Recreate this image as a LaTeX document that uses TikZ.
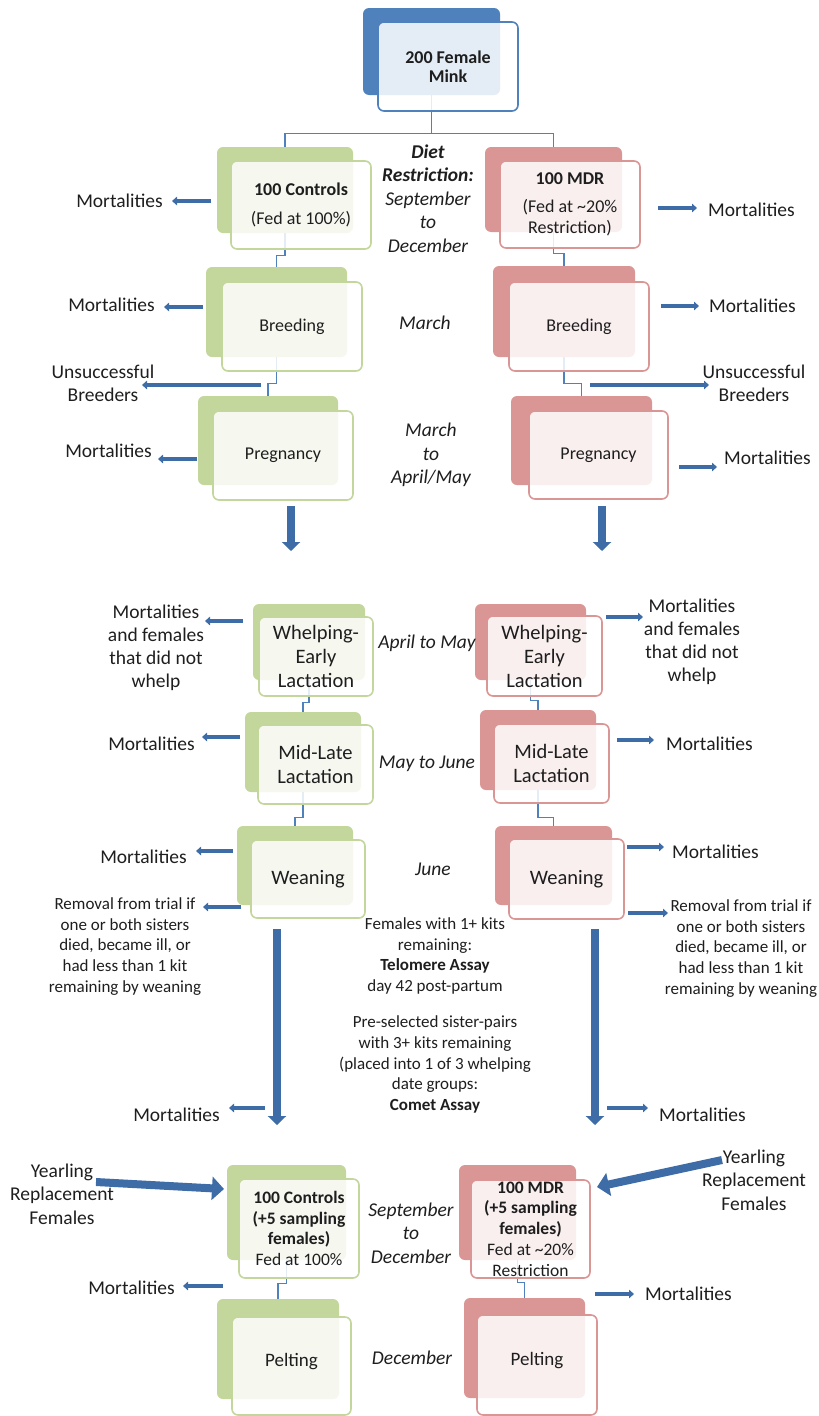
\documentclass[tikz,border=0pt]{standalone}
\usepackage{fontspec}
\setmainfont{Carlito}
\usetikzlibrary{positioning,arrows.meta}

\definecolor{ctrlgreen}{RGB}{195,214,155}
\definecolor{mdrred}{RGB}{217,150,148}
\definecolor{minkblue}{RGB}{79,129,189}
\definecolor{arrowblue}{RGB}{62,108,166}
\definecolor{inkgray}{RGB}{30,30,30}

\tikzset{
  stagebox/.style={rounded corners=6pt, inner sep=0pt, align=center, text=inkgray},
  backbox/.style={stagebox, fill=#1},
  frontbox/.style={stagebox, draw=#1, line width=1.6pt, fill=white, fill opacity=0.85, text opacity=1,
    font=\fontsize{18}{21}\selectfont},
  boxsize/.style 2 args={minimum width=#1pt, minimum height=#2pt},
  link/.style={draw=minkblue, line width=1.4pt},
  outarrow/.style={draw=arrowblue, line width=3.5pt, -{Triangle[length=5pt,width=8.5pt]}},
  bigarrow/.style={draw=arrowblue, line width=7.5pt, -{Triangle[length=9pt,width=18pt]}},
  yeararrow/.style={draw=arrowblue, line width=8pt, -{Triangle[length=12pt,width=23pt]}},
  sidelbl/.style={inner sep=0pt, align=center, text=inkgray, font=\fontsize{19.5}{23}\selectfont},
  notelbl/.style={inner sep=0pt, align=center, text=inkgray, font=\fontsize{17}{20.7}\selectfont},
  timelbl/.style={inner sep=0pt, align=center, text=inkgray, font=\fontsize{19.5}{23.5}\selectfont\itshape},
  midfont/.style={font=\fontsize{20.5}{24}\selectfont},
  lowfont/.style={font=\fontsize{17.5}{20.7}\selectfont},
}

\begin{document}
\begin{tikzpicture}[x=1pt,y=-1pt]
\useasboundingbox (0,0) rectangle (819,1416);

% back boxes
\node[backbox=minkblue, boxsize={137}{87}] (minkb) at (431.5,51.5) {};
\node[backbox=ctrlgreen, boxsize={136}{86}] (ctrl1b) at (285,190) {};
\node[backbox=mdrred, boxsize={137}{85}] (mdr1b) at (553.5,189.5) {};
\node[backbox=ctrlgreen, boxsize={141}{90}] (ctrl2b) at (276.5,312) {};
\node[backbox=mdrred, boxsize={142}{91}] (mdr2b) at (564,311.5) {};
\node[backbox=ctrlgreen, boxsize={140}{89}] (ctrl3b) at (268,440.5) {};
\node[backbox=mdrred, boxsize={141}{89}] (mdr3b) at (581.5,440.5) {};
\node[backbox=ctrlgreen, boxsize={112}{76}] (ctrl4b) at (309,642) {};
\node[backbox=mdrred, boxsize={111}{76}] (mdr4b) at (530.5,642) {};
\node[backbox=ctrlgreen, boxsize={116}{80}] (ctrl5b) at (303,752) {};
\node[backbox=mdrred, boxsize={116}{80}] (mdr5b) at (538,750) {};
\node[backbox=ctrlgreen, boxsize={116}{79}] (ctrl6b) at (295,865.5) {};
\node[backbox=mdrred, boxsize={117}{79}] (mdr6b) at (553.5,865.5) {};
\node[backbox=ctrlgreen, boxsize={119}{95}] (ctrl7b) at (286.5,1212.5) {};
\node[backbox=mdrred, boxsize={117}{95}] (mdr7b) at (517.5,1212.5) {};
\node[backbox=ctrlgreen, boxsize={122}{100}] (ctrl8b) at (278,1349) {};
\node[backbox=mdrred, boxsize={121}{100}] (mdr8b) at (524.5,1348) {};

% links between stages
\draw[link] (minkb.south) -- ++(0,38) -| (ctrl1b.north);
\draw[link] (minkb.south) -- ++(0,38) -| (mdr1b.north);
\draw[link] (ctrl1b.south) -- ++(0,22) -| (ctrl2b.north);
\draw[link] (mdr1b.south) -- ++(0,21) -| (mdr2b.north);
\draw[link] (ctrl2b.south) -- ++(0,26) -| (ctrl3b.north);
\draw[link] (mdr2b.south) -- ++(0,26) -| (mdr3b.north);
\draw[link] (ctrl4b.south) -- ++(0,22) -| (ctrl5b.north);
\draw[link] (mdr4b.south) -- ++(0,20) -| (mdr5b.north);
\draw[link] (ctrl5b.south) -- ++(0,25) -| (ctrl6b.north);
\draw[link] (mdr5b.south) -- ++(0,27) -| (mdr6b.north);
\draw[link] (ctrl7b.south) -- ++(0,23) -| (ctrl8b.north);
\draw[link] (mdr7b.south) -- ++(0,22) -| (mdr8b.north);

% front boxes
\node[frontbox=minkblue, boxsize={140}{89}, font=\fontsize{18}{19.5}\selectfont\bfseries] (mink) at (448,66.5) {200 Female\\Mink};
\node[frontbox=ctrlgreen, boxsize={140}{88}] (ctrl1) at (301,205) {\textbf{100 Controls}\\[8pt](Fed at 100\%)};
\node[frontbox=mdrred, boxsize={140}{87}] (mdr1) at (570,204.5) {\textbf{100 MDR}\\[7pt](Fed at \textasciitilde20\%\\Restriction)};
\node[frontbox=ctrlgreen, boxsize={140}{89}] (ctrl2) at (292,326.5) {Breeding};
\node[frontbox=mdrred, boxsize={140}{89}] (mdr2) at (579,326.5) {Breeding};
\node[frontbox=ctrlgreen, boxsize={140}{89}] (ctrl3) at (283,455.5) {Pregnancy};
\node[frontbox=mdrred, boxsize={139}{88}] (mdr3) at (598.5,455) {Pregnancy};
\node[frontbox=ctrlgreen, boxsize={114}{79}, midfont] (ctrl4) at (316,656.5) {Whelping-\\Early\\Lactation};
\node[frontbox=mdrred, boxsize={115}{80}, midfont] (mdr4) at (544.5,656) {Whelping-\\Early\\Lactation};
\node[frontbox=ctrlgreen, boxsize={115}{79}, midfont] (ctrl5) at (315.5,764.5) {Mid-Late\\Lactation};
\node[frontbox=mdrred, boxsize={115}{79}, midfont] (mdr5) at (551.5,763.5) {Mid-Late\\Lactation};
\node[frontbox=ctrlgreen, boxsize={114}{78}, midfont] (ctrl6) at (308,879) {Weaning};
\node[frontbox=mdrred, boxsize={115}{80}, midfont] (mdr6) at (566.5,879) {Weaning};
\node[frontbox=ctrlgreen, boxsize={120}{99}, lowfont] (ctrl7) at (299,1228.5) {\textbf{100 Controls}\\\textbf{(+5 sampling}\\\textbf{females)}\\Fed at 100\%};
\node[frontbox=mdrred, boxsize={119}{98}, lowfont] (mdr7) at (530.5,1229) {\textbf{100 MDR}\\\textbf{(+5 sampling}\\\textbf{females)}\\Fed at \textasciitilde20\%\\Restriction};
\node[frontbox=ctrlgreen, boxsize={119}{98}, font=\fontsize{19}{23}\selectfont, text height=0pt, text depth=0pt] (ctrl8) at (291.5,1366) {Pelting};
\node[frontbox=mdrred, boxsize={120}{100}, font=\fontsize{19}{23}\selectfont, text height=0pt, text depth=0pt] (mdr8) at (537,1365) {Pelting};

% time of year
\node[timelbl] (diet) at (428,198.5) {\textbf{Diet}\\\textbf{Restriction:}\\September\\to\\December};
\node[timelbl] (march) at (425,323) {March};
\node[timelbl] (marchmay) at (431,455) {March\\to\\April/May};
\node[timelbl] (aprmay) at (427,643) {April to May};
\node[timelbl] (mayjune) at (427,764) {May to June};
\node[timelbl] (june) at (433,869) {June};
\node[timelbl] (sepdec) at (411,1233) {September\\to\\December};
\node[timelbl] (dec) at (412,1358) {December};

% assays
\node[notelbl] (telomere) at (435,956) {Females with 1+ kits\\remaining:\\\textbf{Telomere Assay}\\day 42 post-partum};
\node[notelbl] (comet) at (435,1064.5) {Pre-selected sister-pairs\\with 3+ kits remaining\\(placed into 1 of 3 whelping\\date groups:\\\textbf{Comet Assay}};

% losses, control side
\coordinate (l1s) at (211,201); \coordinate (l1e) at (172,201);
\node[sidelbl, left=9pt of l1e] (mortc1) {Mortalities};
\draw[outarrow] (l1s) -- (l1e);
\coordinate (l2s) at (203,307); \coordinate (l2e) at (164,307);
\node[sidelbl, left=9pt of l2e, yshift=2pt] (mortc2) {Mortalities};
\draw[outarrow] (l2s) -- (l2e);
\coordinate (lus) at (261,385); \coordinate (lue) at (142,385);
\node[sidelbl] (unsuccc) at (103,383) {Unsuccessful\\Breeders};
\draw[outarrow] (lus) -- (lue);
\coordinate (l3s) at (197,459); \coordinate (l3e) at (158,459);
\node[sidelbl, left=6pt of l3e, yshift=8pt] (mortc3) {Mortalities};
\draw[outarrow] (l3s) -- (l3e);
\coordinate (l4s) at (243,621); \coordinate (l4e) at (205,621);
\node[sidelbl] (mortc4) at (156,647.5) {Mortalities\\and females\\that did not\\whelp};
\draw[outarrow] (l4s) -- (l4e);
\coordinate (l5s) at (240,737); \coordinate (l5e) at (202,737);
\node[sidelbl, left=7pt of l5e, yshift=-7pt] (mortc5) {Mortalities};
\draw[outarrow] (l5s) -- (l5e);
\coordinate (l6s) at (233,851); \coordinate (l6e) at (196,851);
\node[sidelbl, left=9pt of l6e, yshift=-6pt] (mortc6) {Mortalities};
\draw[outarrow] (l6s) -- (l6e);
\coordinate (lrs) at (241,907); \coordinate (lre) at (203,907);
\node[notelbl] (removec) at (125,946.5) {Removal from trial if\\one or both sisters\\died, became ill, or\\had less than 1 kit\\remaining by weaning};
\draw[outarrow] (lrs) -- (lre);
\coordinate (l7s) at (265,1108); \coordinate (l7e) at (229,1108);
\node[sidelbl, left=9pt of l7e, yshift=-7pt] (mortc7) {Mortalities};
\draw[outarrow] (l7s) -- (l7e);
\coordinate (l8s) at (223,1286); \coordinate (l8e) at (183,1286);
\node[sidelbl, left=8pt of l8e, yshift=-2pt] (mortc8) {Mortalities};
\draw[outarrow] (l8s) -- (l8e);

% losses, MDR side
\coordinate (r1s) at (658,208); \coordinate (r1e) at (697,208);
\node[sidelbl, right=11pt of r1e, yshift=-2pt] (mortm1) {Mortalities};
\draw[outarrow] (r1s) -- (r1e);
\coordinate (r2s) at (661,306); \coordinate (r2e) at (699,306);
\node[sidelbl, right=10pt of r2e] (mortm2) {Mortalities};
\draw[outarrow] (r2s) -- (r2e);
\coordinate (rus) at (590,385); \coordinate (rue) at (709,385);
\node[sidelbl] (unsuccm) at (754,383) {Unsuccessful\\Breeders};
\draw[outarrow] (rus) -- (rue);
\coordinate (r3s) at (679,467); \coordinate (r3e) at (717,467);
\node[sidelbl, right=7pt of r3e, yshift=9pt] (mortm3) {Mortalities};
\draw[outarrow] (r3s) -- (r3e);
\coordinate (r4s) at (606,617); \coordinate (r4e) at (643,617);
\node[sidelbl] (mortm4) at (692,641.5) {Mortalities\\and females\\that did not\\whelp};
\draw[outarrow] (r4s) -- (r4e);
\coordinate (r5s) at (617,740); \coordinate (r5e) at (654,740);
\node[sidelbl, right=12pt of r5e, yshift=-4pt] (mortm5) {Mortalities};
\draw[outarrow] (r5s) -- (r5e);
\coordinate (r6s) at (627,847); \coordinate (r6e) at (664,847);
\node[sidelbl, right=8pt of r6e, yshift=-5pt] (mortm6) {Mortalities};
\draw[outarrow] (r6s) -- (r6e);
\coordinate (rrs) at (628,913); \coordinate (rre) at (668,913);
\node[notelbl] (removem) at (741,948.5) {Removal from trial if\\one or both sisters\\died, became ill, or\\had less than 1 kit\\remaining by weaning};
\draw[outarrow] (rrs) -- (rre);
\coordinate (r7s) at (607,1108); \coordinate (r7e) at (648,1108);
\node[sidelbl, right=11pt of r7e, yshift=-7pt] (mortm7) {Mortalities};
\draw[outarrow] (r7s) -- (r7e);
\coordinate (r8s) at (595,1294); \coordinate (r8e) at (634,1294);
\node[sidelbl, right=11pt of r8e] (mortm8) {Mortalities};
\draw[outarrow] (r8s) -- (r8e);

% big arrows down
\coordinate (dc1s) at (291,506); \coordinate (dc1e) at (291,551);
\coordinate (dm1s) at (602,506); \coordinate (dm1e) at (602,551);
\coordinate (dc2s) at (277,929); \coordinate (dc2e) at (277,1125);
\coordinate (dm2s) at (595,929); \coordinate (dm2e) at (595,1125);
\draw[bigarrow] (dc1s) -- (dc1e);
\draw[bigarrow] (dm1s) -- (dm1e);
\draw[bigarrow] (dc2s) -- (dc2e);
\draw[bigarrow] (dm2s) -- (dm2e);

% yearlings
\node[sidelbl, font=\fontsize{19.5}{23.5}\selectfont] (yearc) at (62,1194) {Yearling\\Replacement\\Females};
\node[sidelbl, font=\fontsize{19.5}{23.5}\selectfont] (yearm) at (754,1180) {Yearling\\Replacement\\Females};
\coordinate (ycs) at (96,1182); \coordinate (yce) at (224,1189);
\coordinate (yms) at (722,1160); \coordinate (yme) at (597,1187);
\draw[yeararrow] (ycs) -- (yce);
\draw[yeararrow] (yms) -- (yme);

\end{tikzpicture}
\end{document}
